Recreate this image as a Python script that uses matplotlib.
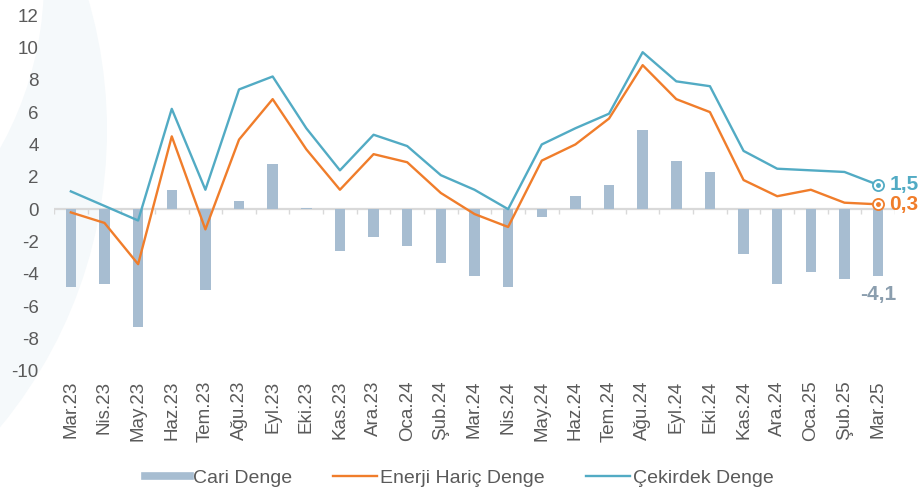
import matplotlib.pyplot as plt
import matplotlib.patches as patches
from matplotlib.lines import Line2D
import numpy as np

# Months (Mar.23 - Mar.25)
months = ["Mar.23", "Nis.23", "May.23", "Haz.23", "Tem.23", "Ağu.23", "Eyl.23",
          "Eki.23", "Kas.23", "Ara.23", "Oca.24", "Şub.24", "Mar.24", "Nis.24",
          "May.24", "Haz.24", "Tem.24", "Ağu.24", "Eyl.24", "Eki.24", "Kas.24",
          "Ara.24", "Oca.25", "Şub.25", "Mar.25"]

cari_denge = [-4.8, -4.6, -7.3, 1.2, -5.0, 0.5, 2.8, 0.05, -2.6, -1.7, -2.3, -3.3,
              -4.1, -4.8, -0.5, 0.8, 1.5, 4.9, 3.0, 2.3, -2.8, -4.6, -3.9, -4.3, -4.1]

enerji_haric = [-0.2, -0.85, -3.4, 4.5, -1.25, 4.3, 6.8, 3.7, 1.2, 3.4, 2.9, 1.0,
                -0.3, -1.1, 3.0, 4.0, 5.6, 8.9, 6.8, 6.0, 1.8, 0.8, 1.2, 0.4, 0.3]

cekirdek = [1.1, 0.2, -0.7, 6.2, 1.2, 7.4, 8.2, 5.0, 2.4, 4.6, 3.9, 2.1,
            1.2, 0.0, 4.0, 5.0, 5.9, 9.7, 7.9, 7.6, 3.6, 2.5, 2.4, 2.3, 1.5]

yticks = list(range(-10, 13, 2))

bar_color = "#a7bdd1"
orange = "#f07d2b"
teal = "#52abc4"
text_color = "#5a5a5a"

plt.rcParams['font.family'] = ['Liberation Sans', 'DejaVu Sans']

fig = plt.figure(figsize=(9.19, 4.92), dpi=100)

# faint decorative crescent in the background
bg = fig.add_axes([0, 0, 1, 1], zorder=-1)
bg.set_xlim(0, 919)
bg.set_ylim(492, 0)
bg.axis("off")
bg.add_patch(patches.Circle((-360, 130), 467, facecolor="#f5f9fb", edgecolor="none"))
bg.add_patch(patches.Circle((-300, -20), 344, facecolor="white", edgecolor="none"))

ax = fig.add_axes([0.0588, 0.246, 0.915, 0.7235])
ax.set_facecolor("none")

x = np.arange(len(months))
ax.bar(x, cari_denge, width=0.31, color=bar_color, zorder=2)
ax.plot(x, enerji_haric, color=orange, lw=1.7, zorder=3)
ax.plot(x, cekirdek, color=teal, lw=1.7, zorder=3)

# zero line with small category separators
ax.axhline(0, color="#d9d9d9", lw=1.6, zorder=1)
ax.vlines(np.arange(len(months) + 1) - 0.5, -0.28, 0, color="#d9d9d9", lw=1.0, zorder=1)

ax.set_xlim(-0.5, len(months) - 0.5)
ax.set_ylim(-10, 12)
ax.set_yticks(yticks)
ax.set_yticklabels([str(v) for v in yticks])
ax.set_xticks(x)
ax.set_xticklabels(months, rotation=90)
ax.tick_params(axis="both", length=0, labelsize=13.5, colors=text_color)
ax.tick_params(axis="y", pad=11)
ax.tick_params(axis="x", pad=7)
for s in ax.spines.values():
    s.set_visible(False)

# end labels
last = len(months) - 1
for vals, col in [(cekirdek, teal), (enerji_haric, orange)]:
    ax.plot(last, vals[-1], marker="o", ms=8, mfc="white", mec=col, mew=1.3, zorder=4)
    ax.plot(last, vals[-1], marker="o", ms=2.5, color=col, zorder=5)
    ax.annotate(f"{vals[-1]:.1f}".replace(".", ","), (last, vals[-1]),
                xytext=(8, 0), textcoords="offset points", ha="left", va="center",
                color=col, fontsize=15, fontweight="bold", annotation_clip=False)
ax.annotate(f"{cari_denge[-1]:.1f}".replace(".", ","), (last, cari_denge[-1]),
            xytext=(0, -7), textcoords="offset points", ha="center", va="top",
            color="#8b9eae", fontsize=15, fontweight="bold", annotation_clip=False)

handles = [Line2D([], [], color=bar_color, lw=5.5),
           Line2D([], [], color=orange, lw=1.7),
           Line2D([], [], color=teal, lw=1.7)]
fig.legend(handles, ["Cari Denge", "Enerji Hariç Denge", "Çekirdek Denge"],
           loc="center", bbox_to_anchor=(0.5, 0.028), ncol=3, frameon=False,
           fontsize=14, labelcolor=text_color, handlelength=2.3,
           handletextpad=0.15, columnspacing=2.1)

fig.savefig("out.png", dpi=100)
